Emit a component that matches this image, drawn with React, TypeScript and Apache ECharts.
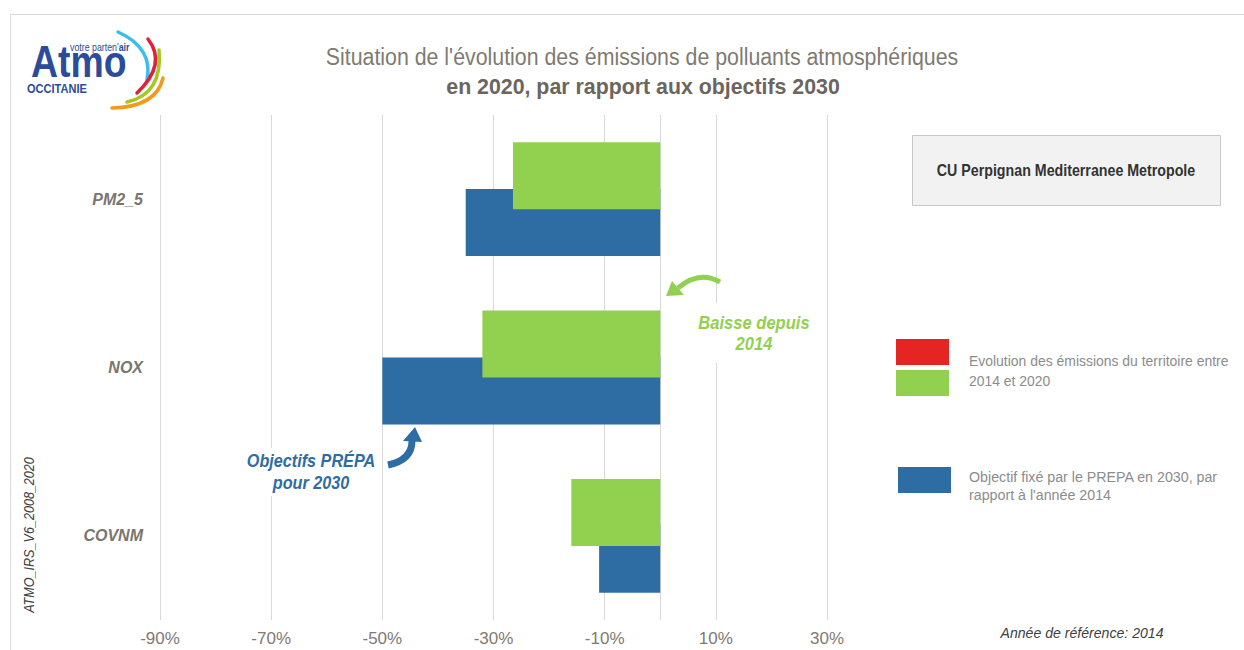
import React, { useEffect, useRef } from "react";
import * as echarts from "echarts";

const categories = ["PM2_5", "NOX", "COVNM"];
const evolution20142020 = [-26.5, -32, -16];
const objectif2030 = [-35, -50, -11];
const axisMin = -90;
const axisMax = 30;
const axisStep = 20;

const SANS = "'Liberation Sans', Arial, sans-serif";
const GREEN = "#92d050";
const RED = "#e52523";
const BLUE = "#2e6ca4";
const GRID = "#d9d9d9";
const LOGO_BLUE = "#2b4c9b";

export default function App() {
  const ref = useRef<HTMLDivElement>(null);
  useEffect(() => {
    if (!ref.current) return;
    const chart = echarts.init(ref.current, null, { renderer: "svg" });
    const txt = (
      text: string,
      x: number,
      y: number,
      font: string,
      fill: string,
      scaleX: number,
      align: string = "left",
      extra: any = {}
    ) => ({
      type: "text",
      x,
      y,
      scaleX,
      ...extra,
      style: { text, font, fill, align, verticalAlign: "middle" },
    });
    const option: any = {
      animation: false,
      backgroundColor: "#ffffff",
      grid: {
        left: 160,
        top: 115,
        width: 667,
        height: 505,
        containLabel: false,
        outerBoundsMode: "none",
      },
      xAxis: {
        type: "value",
        min: axisMin,
        max: axisMax,
        interval: axisStep,
        axisLine: { show: false },
        axisTick: { show: false },
        splitLine: { show: true, lineStyle: { color: GRID, width: 1 } },
        axisLabel: {
          formatter: (v: number) => `${v}%`,
          color: "#7f7a72",
          fontFamily: SANS,
          fontSize: 17,
          margin: 10,
        },
      },
      yAxis: {
        type: "category",
        data: categories,
        inverse: true,
        axisLine: { show: false },
        axisTick: { show: false },
        splitLine: { show: false },
        axisLabel: {
          color: "#7a756d",
          fontFamily: SANS,
          fontSize: 16,
          fontWeight: "bold",
          fontStyle: "italic",
          margin: 17,
        },
      },
      series: [
        {
          name: "Evolution des émissions du territoire entre 2014 et 2020",
          type: "bar",
          data: evolution20142020,
          barWidth: 67,
          barGap: "-30%",
          z: 3,
          itemStyle: {
            color: (p: any) => (p.value < 0 ? GREEN : RED),
          },
        },
        {
          name: "Objectif fixé par le PREPA en 2030, par rapport à l'année 2014",
          type: "bar",
          data: objectif2030,
          barWidth: 67,
          barGap: "-30%",
          z: 2,
          itemStyle: { color: BLUE },
          markLine: {
            silent: true,
            symbol: "none",
            label: { show: false },
            lineStyle: { color: GRID, type: "solid", width: 1 },
            data: [{ xAxis: 0 }],
            z: 1,
          },
        },
      ],
      graphic: [
        // outer frame
        {
          type: "rect",
          shape: { x: 10.5, y: 14.5, width: 1300, height: 700 },
          style: { fill: "none", stroke: GRID, lineWidth: 1 },
          silent: true,
        },
        // logo
        txt("Atmo", 31, 62, `bold 44px ${SANS}`, LOGO_BLUE, 0.85),
        {
          type: "text",
          x: 70,
          y: 47,
          scaleX: 0.8,
          style: {
            text: "{a|votre parten'}{b|air}",
            verticalAlign: "middle",
            rich: {
              a: { fontFamily: SANS, fontSize: 11, fill: LOGO_BLUE, fontWeight: "normal" },
              b: { fontFamily: SANS, fontSize: 11, fill: LOGO_BLUE, fontWeight: "bold" },
            },
          },
        },
        txt("OCCITANIE", 27, 89, `bold 12px ${SANS}`, LOGO_BLUE, 0.92),
        {
          type: "bezierCurve",
          shape: { x1: 118, y1: 32, cpx1: 153.5, cpy1: 48, x2: 147, y2: 80 },
          style: { stroke: "#3dbde8", lineWidth: 3.5, fill: "none", lineCap: "round" },
        },
        {
          type: "bezierCurve",
          shape: { x1: 148, y1: 39, cpx1: 167.5, cpy1: 64, x2: 137, y2: 93 },
          style: { stroke: "#e0213a", lineWidth: 3.5, fill: "none", lineCap: "round" },
        },
        {
          type: "bezierCurve",
          shape: { x1: 159, y1: 50, cpx1: 163, cpy1: 94, x2: 127, y2: 102 },
          style: { stroke: "#a5c823", lineWidth: 3.5, fill: "none", lineCap: "round" },
        },
        {
          type: "bezierCurve",
          shape: { x1: 163, y1: 78, cpx1: 156.5, cpy1: 107, x2: 112, y2: 108 },
          style: { stroke: "#f39a1b", lineWidth: 3.5, fill: "none", lineCap: "round" },
        },
        // title
        txt(
          "Situation de l'évolution des émissions de polluants atmosphériques",
          642,
          57,
          `23px ${SANS}`,
          "#7f7a72",
          0.928,
          "center"
        ),
        txt("en 2020, par rapport aux objectifs 2030", 643, 86, `bold 22px ${SANS}`, "#6b655e", 0.97, "center"),
        // territory box
        {
          type: "rect",
          shape: { x: 912.5, y: 135.5, width: 308, height: 70 },
          style: { fill: "#f2f2f2", stroke: "#c8c8c8", lineWidth: 1 },
        },
        txt("CU Perpignan Mediterranee Metropole", 1066, 170, `bold 16px ${SANS}`, "#333333", 0.89, "center"),
        // legend
        { type: "rect", shape: { x: 896, y: 339, width: 53, height: 26 }, style: { fill: RED } },
        { type: "rect", shape: { x: 896, y: 370, width: 53, height: 26 }, style: { fill: GREEN } },
        txt("Evolution des émissions du territoire entre", 969, 361, `15px ${SANS}`, "#8c8c8c", 0.93),
        txt("2014 et 2020", 969, 381, `15px ${SANS}`, "#8c8c8c", 0.93),
        { type: "rect", shape: { x: 898, y: 467, width: 53, height: 26 }, style: { fill: BLUE } },
        txt("Objectif fixé par le PREPA en 2030, par", 969, 477, `15px ${SANS}`, "#8c8c8c", 0.95),
        txt("rapport à l'année 2014", 969, 495, `15px ${SANS}`, "#8c8c8c", 0.95),
        // annotation: Baisse depuis 2014
        { type: "rect", shape: { x: 700, y: 303, width: 110, height: 60 }, style: { fill: "#ffffff" }, z: 10 },
        txt("Baisse depuis", 754, 323, `italic bold 18px ${SANS}`, GREEN, 0.92, "center", { z: 11 }),
        txt("2014", 754, 344, `italic bold 18px ${SANS}`, GREEN, 0.92, "center", { z: 11 }),
        {
          type: "bezierCurve",
          z: 11,
          shape: { x1: 720, y1: 282, cpx1: 699, cpy1: 270, x2: 678, y2: 288 },
          style: { stroke: GREEN, lineWidth: 5, fill: "none" },
        },
        {
          type: "polygon",
          z: 11,
          shape: { points: [[666, 296], [684, 295], [672, 281]] },
          style: { fill: GREEN },
        },
        // annotation: Objectifs PRÉPA pour 2030
        { type: "rect", shape: { x: 244, y: 448, width: 134, height: 48 }, style: { fill: "#ffffff" }, z: 10 },
        txt("Objectifs PRÉPA", 311, 461, `italic bold 18px ${SANS}`, BLUE, 0.9, "center", { z: 11 }),
        txt("pour 2030", 311, 483, `italic bold 18px ${SANS}`, BLUE, 0.9, "center", { z: 11 }),
        {
          type: "bezierCurve",
          z: 11,
          shape: { x1: 388, y1: 465, cpx1: 412, cpy1: 460, x2: 412, y2: 441 },
          style: { stroke: BLUE, lineWidth: 7, fill: "none" },
        },
        {
          type: "polygon",
          z: 11,
          shape: { points: [[415, 427], [422, 442], [403, 441]] },
          style: { fill: BLUE },
        },
        // footer
        txt("Année de référence: 2014", 1082, 633, `italic 15px ${SANS}`, "#404040", 0.94, "center"),
        txt("ATMO_IRS_V6_2008_2020", 29, 535, `italic 14px ${SANS}`, "#404040", 0.9, "center", {
          rotation: Math.PI / 2,
        }),
      ],
    };
    chart.setOption(option);
    return () => chart.dispose();
  }, []);
  return (
    <div
      ref={ref}
      style={{ position: "fixed", left: 0, top: 0, width: 1244, height: 650, background: "#fff" }}
    />
  );
}
